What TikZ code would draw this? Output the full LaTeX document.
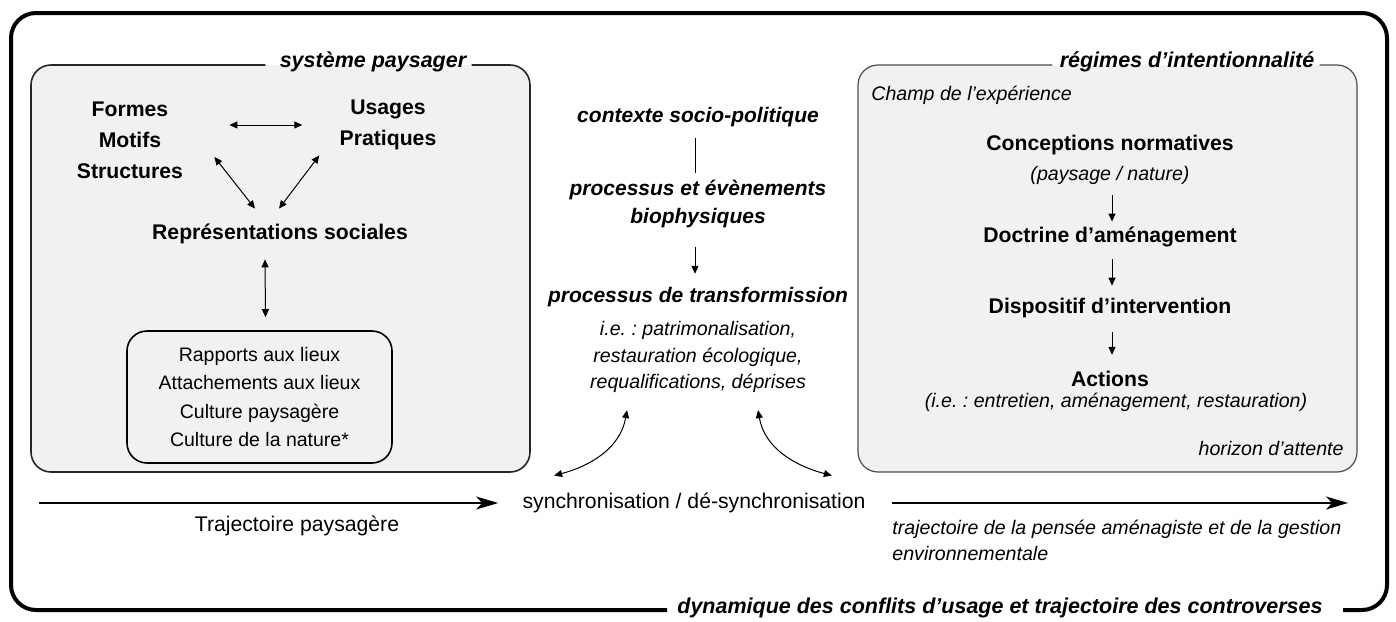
\documentclass[tikz,border=0pt]{standalone}
\usepackage{fontspec}
\setmainfont{Liberation Sans}
\usetikzlibrary{arrows.meta,calc}

\definecolor{boxgray}{RGB}{241,241,241}
\frenchspacing

\begin{document}
\begin{tikzpicture}[x=0.5pt,y=-0.5pt,
    txt/.style={inner sep=0pt,align=center},
    gras/.style={txt,font=\fontsize{10.6pt}{15.5pt}\selectfont\bfseries},
    grasit/.style={txt,font=\fontsize{10.5pt}{14pt}\selectfont\bfseries\itshape},
    titre/.style={txt,font=\fontsize{10.75pt}{13pt}\selectfont\bfseries\itshape},
    normal/.style={txt,font=\fontsize{10.6pt}{13pt}\selectfont},
    petit/.style={txt,font=\fontsize{9.75pt}{14.25pt}\selectfont},
    petitit/.style={txt,font=\fontsize{9.8pt}{13.3pt}\selectfont\itshape},
    fleche/.style={line width=0.5pt,-{Triangle[length=4pt,width=3.5pt]}},
    dfleche/.style={line width=0.5pt,{Triangle[length=4pt,width=3.5pt]}-{Triangle[length=4pt,width=3.5pt]}},
    trajet/.style={line width=0.7pt,-{Stealth[length=11pt,width=6.5pt,inset=3pt]}},
    cadre/.style={line width=2pt,rounded corners=12.5pt},
    boite/.style={line width=0.8pt,rounded corners=10pt},
  ]
\useasboundingbox (0,0) rectangle (1396,621);

% boites grises
\fill[boxgray,rounded corners=10pt] (31,65) rectangle (530,472);
\fill[boxgray,rounded corners=10pt] (858,65) rectangle (1357,472);

% titres sur les bords
\node[titre] (syst) at (373,62) {système paysager};
\node[titre] (regim) at (1187,62) {régimes d’intentionnalité};
\node[titre] (dyn) at (1000,608) {dynamique des conflits d’usage et trajectoire des controverses};

\draw[boite,black!85] ($(syst.west)+(-14,3)$) -- (31,65) -- (31,472) -- (530,472) -- (530,65) -- ($(syst.east)+(5,3)$);
\draw[boite,black!70,line width=0.6pt] ($(regim.west)+(-7,3)$) -- (858,65) -- (858,472) -- (1357,472) -- (1357,65) -- ($(regim.east)+(5,3)$);
\draw[cadre] ($(dyn.west)+(-10,2)$) -- (11,610) -- (11,13) -- (1387,13) -- (1387,610) -- ($(dyn.east)+(20,2)$);

% systeme paysager
\node[gras] (forms) at (130,140) {Formes\\Motifs\\Structures};
\node[gras] (usages) at (388,125) {Usages\\Pratiques};
\node[gras] (repr) at (280,234) {Représentations sociales};
\node[petit,draw,line width=0.8pt,fill=boxgray,rounded corners=10pt,minimum width=132.5pt,minimum height=66pt] (lieux) at (259.5,397) {Rapports aux lieux\\Attachements aux lieux\\Culture paysagère\\Culture de la nature*};

\draw[dfleche] ($(forms.east)+(46,-15)$) -- ($(usages.west)+(-37,0)$);
\draw[dfleche] ($(forms.east)+(31,17)$) -- ($(repr.north)+(-25,-15)$);
\draw[dfleche] ($(usages.south west)+(-20,5)$) -- ($(repr.north)+(-1,-15)$);
\draw[dfleche] ($(repr.south)+(-15,15)$) -- ($(lieux.north)+(6,-13)$);

% colonne centrale
\node[grasit] (ctx) at (698,117) {contexte socio-politique};
\node[grasit] (bio) at (698,204) {processus et évènements\\biophysiques};
\node[grasit] (transf) at (698,297) {processus de transformission};
\node[petitit] (ie) at (698,357) {i.e. : patrimonalisation,\\restauration écologique,\\requalifications, déprises};
\node[normal] (sync) at (694,503) {synchronisation / dé-synchronisation};

\draw[line width=0.5pt] ($(ctx.south)+(-3,11)$) -- ($(bio.north)+(-3,-7)$);
\draw[fleche] ($(bio.south)+(-3,19)$) -- ($(transf.north)+(-3,-13)$);
\draw[dfleche] ($(ie.south)+(-71,17)$) to[out=-100,in=15] ($(sync.north west)+(32,-17)$);
\draw[dfleche] ($(ie.south)+(60,17)$) to[out=-80,in=165] ($(sync.north east)+(-34,-17)$);

% trajectoires
\coordinate (debut) at (39,503);
\coordinate (fin) at (1348,503);
\draw[trajet] (debut) -- ($(sync.west)+(-24,0)$);
\draw[trajet] ($(sync.east)+(26,0)$) -- (fin);
\node[normal] (trajp) at (297,526) {Trajectoire paysagère};
\node[petitit,align=left,anchor=west] (trajam) at (892,540.5) {trajectoire de la pensée aménagiste et de la gestion\\environnementale};

% regimes d'intentionnalite
\node[petitit,anchor=west] (champ) at (871,95) {Champ de l’expérience};
\node[gras] (concep) at (1110,145) {Conceptions normatives};
\node[petitit] (payn) at (1110,175) {(paysage / nature)};
\node[gras] (doct) at (1110,237) {Doctrine d’aménagement};
\node[gras] (disp) at (1110,308) {Dispositif d’intervention};
\node[gras] (act) at (1110,379) {Actions};
\node[petitit] (actie) at (1116,402) {(i.e. : entretien, aménagement, restauration)};
\node[petitit,anchor=east] (horiz) at (1344,448) {horizon d’attente};

\draw[fleche] ($(payn.south)+(2,10)$) -- ($(doct.north)+(2,-5)$);
\draw[fleche] ($(doct.south)+(2,12)$) -- ($(disp.north)+(2,-12)$);
\draw[fleche] ($(disp.south)+(2,14)$) -- ($(act.north)+(2,-16)$);
\end{tikzpicture}
\end{document}
